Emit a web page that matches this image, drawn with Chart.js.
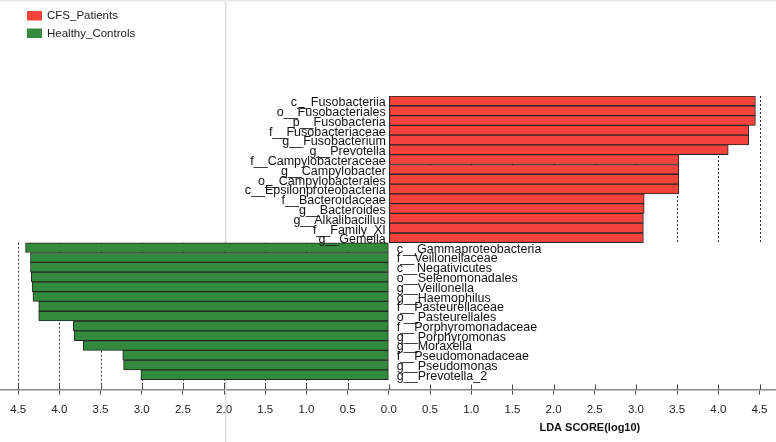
<!DOCTYPE html>
<html>
<head>
<meta charset="utf-8">
<script src="https://cdn.jsdelivr.net/npm/chart.js@4.4.1/dist/chart.umd.min.js"></script>
<style>
  html, body { margin: 0; padding: 0; background: #fff; }
  #lda { display: block; }
</style>
</head>
<body>
<canvas id="lda" width="776" height="442"></canvas>
<script>
// CFS_Patients (red, plotted to the right)
const cfsLabels = ['c__Fusobacteriia', 'o__Fusobacteriales', 'p__Fusobacteria', 'f__Fusobacteriaceae',
  'g__Fusobacterium', 'g__Prevotella', 'f__Campylobacteraceae', 'g__Campylobacter',
  'o__Campylobacterales', 'c__Epsilonproteobacteria', 'f__Bacteroidaceae', 'g__Bacteroides',
  'g__Alkalibacillus', 'f__Family_XI', 'g__Gemella'];
const cfsScores = [4.45, 4.45, 4.45, 4.37, 4.37, 4.12, 3.52, 3.52, 3.52, 3.52, 3.10, 3.10, 3.09, 3.09, 3.09];

// Healthy_Controls (green, plotted to the left)
const hcLabels = ['c__Gammaproteobacteria', 'f__Veillonellaceae', 'c__Negativicutes', 'o__Selenomonadales',
  'g__Veillonella', 'g__Haemophilus', 'f__Pasteurellaceae', 'o__Pasteurellales',
  'f__Porphyromonadaceae', 'g__Porphyromonas', 'g__Moraxella', 'f__Pseudomonadaceae',
  'g__Pseudomonas', 'g__Prevotella_2'];
const hcScores = [4.41, 4.35, 4.35, 4.34, 4.33, 4.32, 4.25, 4.25, 3.83, 3.82, 3.71, 3.23, 3.22, 3.01];

const xTicks = [-4.5, -4.0, -3.5, -3.0, -2.5, -2.0, -1.5, -1.0, -0.5, 0, 0.5, 1.0, 1.5, 2.0, 2.5, 3.0, 3.5, 4.0, 4.5];
const groupNames = ['CFS_Patients', 'Healthy_Controls'];
const groupColors = ['#f3433b', '#338a3c'];

// rows: one per feature, red group first then green group
const cfsPoints = cfsScores.map((v, i) => ({ x: v, y: i + 0.5 }));
const hcPoints = hcScores.map((v, i) => ({ x: -v, y: cfsScores.length + i + 0.5 }));

const ldaDecor = {
  id: 'ldaDecor',
  beforeDatasetsDraw(chart) {
    const ctx = chart.ctx;
    const xs = chart.scales.x, ys = chart.scales.y;
    const split = ys.getPixelForValue(cfsScores.length);
    ctx.save();
    // page artifacts
    ctx.strokeStyle = '#dcdcdc';
    ctx.lineWidth = 1.5;
    ctx.beginPath();
    ctx.moveTo(xs.getPixelForValue(-1.98), 0);
    ctx.lineTo(xs.getPixelForValue(-1.98), chart.height);
    ctx.stroke();
    ctx.strokeStyle = '#e6e8ee';
    ctx.beginPath();
    ctx.moveTo(0, 0.75);
    ctx.lineTo(chart.width, 0.75);
    ctx.stroke();
    // dotted grid, only on each group's side
    ctx.strokeStyle = '#333';
    ctx.lineWidth = 1;
    ctx.setLineDash([2, 2]);
    xTicks.forEach((v) => {
      if (v === 0) return;
      const px = Math.round(xs.getPixelForValue(v)) + 0.5;
      ctx.beginPath();
      if (v > 0) {
        ctx.moveTo(px, chart.chartArea.top);
        ctx.lineTo(px, split);
      } else {
        ctx.moveTo(px, split);
        ctx.lineTo(px, chart.chartArea.bottom);
      }
      ctx.stroke();
    });
    ctx.setLineDash([]);
    ctx.restore();
  },
  afterDraw(chart) {
    const ctx = chart.ctx;
    const xs = chart.scales.x, ys = chart.scales.y;
    const x0 = xs.getPixelForValue(0);
    ctx.save();
    // upper half of tick marks
    ctx.strokeStyle = '#444';
    ctx.lineWidth = 1;
    xTicks.forEach((v) => {
      const px = Math.round(xs.getPixelForValue(v)) + 0.5;
      ctx.beginPath();
      ctx.moveTo(px, chart.chartArea.bottom - 5);
      ctx.lineTo(px, chart.chartArea.bottom);
      ctx.stroke();
    });
    // feature labels
    ctx.fillStyle = '#111';
    ctx.font = '12.5px "Liberation Sans", Arial, sans-serif';
    ctx.textBaseline = 'middle';
    ctx.textAlign = 'right';
    cfsPoints.forEach((p, i) => {
      ctx.fillText(cfsLabels[i], x0 - 3, ys.getPixelForValue(p.y) + 2);
    });
    ctx.textAlign = 'left';
    hcPoints.forEach((p, i) => {
      ctx.fillText(hcLabels[i], x0 + 8, ys.getPixelForValue(p.y) + 1.5);
    });
    // legend
    ctx.font = '11.5px "Liberation Sans", Arial, sans-serif';
    groupNames.forEach((name, i) => {
      const top = 11 + i * 17.5;
      ctx.fillStyle = groupColors[i];
      ctx.fillRect(27, top, 15, 9.5);
      ctx.fillStyle = '#222';
      ctx.textAlign = 'left';
      ctx.fillText(name, 47, top + 5);
    });
    // axis title
    ctx.font = 'bold 11px "Liberation Sans", Arial, sans-serif';
    ctx.textAlign = 'center';
    ctx.fillStyle = '#111';
    ctx.fillText('LDA SCORE(log10)', xs.getPixelForValue(2.44), 428);
    ctx.restore();
  }
};

new Chart(document.getElementById('lda'), {
  type: 'bar',
  data: {
    datasets: [
      {
        label: groupNames[0],
        data: cfsPoints,
        backgroundColor: groupColors[0],
        borderColor: '#262626',
        borderWidth: 1,
        borderSkipped: false,
      },
      {
        label: groupNames[1],
        data: hcPoints,
        backgroundColor: groupColors[1],
        borderColor: '#262626',
        borderWidth: 1,
        borderSkipped: false,
      },
    ],
  },
  options: {
    indexAxis: 'y',
    responsive: false,
    animation: false,
    devicePixelRatio: 1,
    grouped: false,
    barPercentage: 1,
    categoryPercentage: 1,
    layout: { padding: { top: 96, left: 0, right: 0, bottom: 0 } },
    plugins: {
      legend: { display: false },
      tooltip: { enabled: false },
    },
    scales: {
      y: {
        type: 'linear',
        display: false,
        reverse: true,
        offset: false,
        min: 0,
        max: 30,
      },
      x: {
        type: 'linear',
        min: -4.72,
        max: 4.70,
        afterBuildTicks: (scale) => {
          scale.ticks = xTicks.map((v) => ({ value: v }));
        },
        afterFit: (scale) => {
          scale.height = 52.5;
        },
        border: { display: true, color: '#8a8a8a', width: 1.5 },
        grid: { drawOnChartArea: false, drawTicks: true, tickLength: 5, color: '#444' },
        ticks: {
          padding: 8,
          maxRotation: 0,
          autoSkip: false,
          color: '#222',
          font: { family: '"Liberation Sans", Arial, sans-serif', size: 11.5 },
          callback: (v) => Math.abs(v).toFixed(1),
        },
      },
    },
  },
  plugins: [ldaDecor],
});
</script>
</body>
</html>
